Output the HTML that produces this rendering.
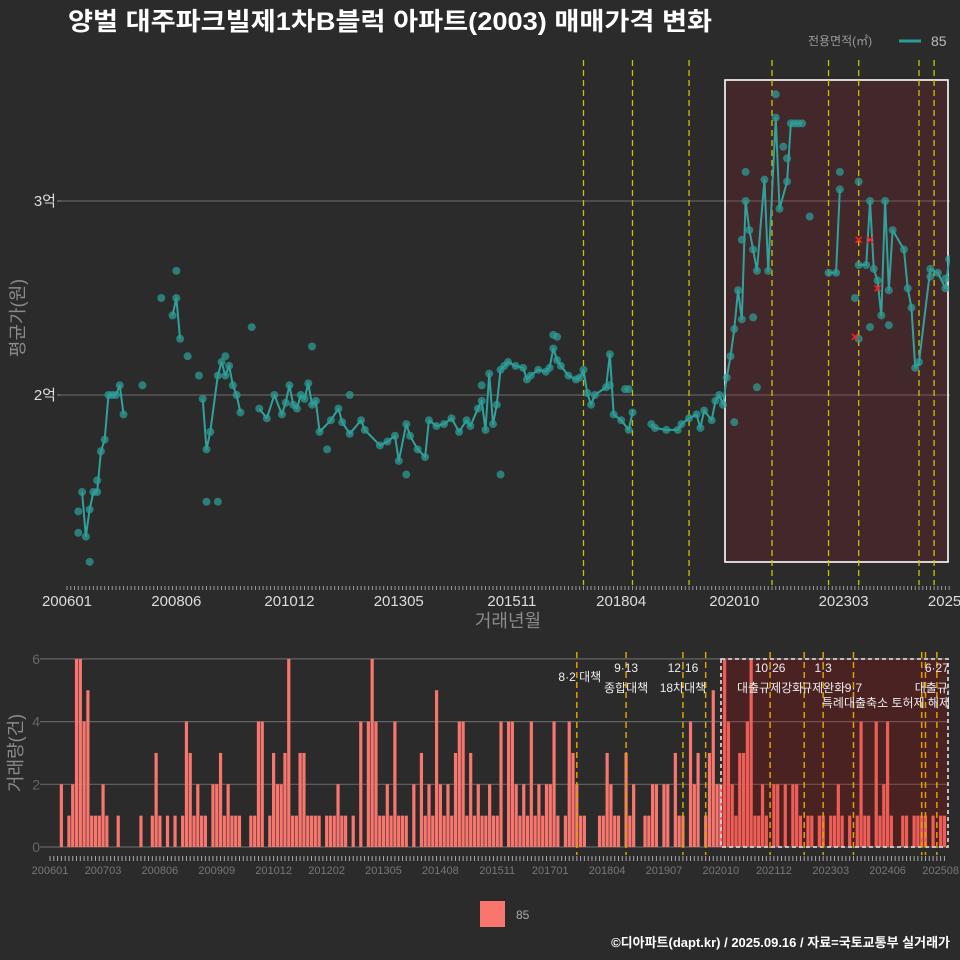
<!DOCTYPE html>
<html><head><meta charset="utf-8">
<style>
html,body{margin:0;padding:0;background:#2b2b2b;}
svg{display:block;font-family:"Liberation Sans","Noto Sans CJK KR",sans-serif;}
</style></head>
<body>
<svg id="chart" width="960" height="960" viewBox="0 0 960 960" xmlns="http://www.w3.org/2000/svg">
<rect x="0" y="0" width="960" height="960" fill="#2b2b2b"/>
<text x="68" y="30" fill="#ffffff" font-size="25" font-weight="bold" textLength="644" lengthAdjust="spacingAndGlyphs">양벌 대주파크빌제1차B블럭 아파트(2003) 매매가격 변화</text>
<g>
<text x="808" y="45" fill="#9a9a9a" font-size="12">전용면적(㎡)</text>
<line x1="899" y1="41" x2="921" y2="41" stroke="#2a9d96" stroke-width="3"/>
<text x="931" y="46" fill="#bbbbbb" font-size="14">85</text>
</g>
<text transform="translate(24,318) rotate(-90)" text-anchor="middle" fill="#8a8a8a" font-size="18">평균가(원)</text>
<text x="508" y="627" text-anchor="middle" fill="#8a8a8a" font-size="18">거래년월</text>
<text transform="translate(22,753) rotate(-90)" text-anchor="middle" fill="#8a8a8a" font-size="18">거래량(건)</text>
<g>
<rect x="480" y="901" width="25" height="26" fill="#f8766d"/>
<text x="516" y="919" fill="#aaaaaa" font-size="12">85</text>
</g>
<text x="950" y="947" text-anchor="end" fill="#ffffff" font-size="13" font-weight="bold">©디아파트(dapt.kr) / 2025.09.16 / 자료=국토교통부 실거래가</text>
<defs>
<clipPath id="topClip"><rect x="40" y="40" width="910" height="545"/></clipPath>
<clipPath id="botClip"><rect x="40" y="640" width="909" height="215"/></clipPath>
</defs>
<g id="top" clip-path="url(#topClip)"></g>
<g id="topAxis"></g>
<g id="bot" clip-path="url(#botClip)"></g>
<g id="botAxis"></g>
</svg>
<script>
const lineMonths=[200605,200606,200607,200608,200609,200610,200611,200612,200702,200703,200704,200805,200806,200807,200901,200902,200903,200905,200906,200907,200908,200909,200910,200911,201004,201006,201008,201010,201011,201012,201101,201102,201103,201104,201105,201106,201107,201108,201111,201201,201202,201204,201207,201208,201212,201302,201304,201305,201307,201308,201310,201312,201401,201403,201405,201407,201409,201411,201412,201502,201503,201504,201505,201506,201507,201508,201509,201510,201512,201602,201603,201604,201606,201608,201609,201610,201611,201612,201702,201704,201705,201706,201707,201708,201709,201712,201801,201802,201804,201806,201807,201812,201901,201904,201907,201908,201910,201912,202001,202002,202004,202005,202006,202007,202008,202009,202010,202011,202012,202101,202102,202103,202104,202106,202107,202109,202110,202112,202201,202202,202203,202204,202211,202301,202302,202307,202309,202310,202311,202312,202401,202402,202403,202404,202407,202408,202409,202410,202411,202502,202504,202506,202507];
const linePrices=[1.50,1.27,1.41,1.50,1.50,1.71,1.77,2.0,2.0,2.05,1.90,2.41,2.50,2.29,1.98,1.72,1.81,2.10,2.17,2.10,2.15,2.05,2.0,1.91,1.93,1.88,2.0,1.9,1.96,2.05,1.95,1.93,2.0,1.98,2.06,1.95,1.97,1.81,1.87,1.93,1.86,1.80,1.87,1.82,1.74,1.76,1.79,1.66,1.85,1.79,1.72,1.68,1.87,1.84,1.85,1.88,1.81,1.87,1.84,1.93,1.97,1.82,2.11,1.85,1.95,2.13,2.15,2.17,2.15,2.14,2.08,2.1,2.13,2.12,2.14,2.24,2.18,2.15,2.1,2.08,2.09,2.13,2.01,1.95,2.0,2.04,2.21,1.90,1.87,1.82,1.91,1.85,1.83,1.82,1.82,1.85,1.88,1.90,1.83,1.92,1.87,1.97,2.0,1.95,2.09,2.2,2.34,2.54,2.39,3.0,2.85,2.75,2.64,3.11,2.64,3.43,2.96,3.1,3.4,3.4,3.4,3.4,2.63,2.63,3.06,2.67,2.67,3.0,2.65,2.59,2.41,3.0,2.54,2.85,2.75,2.55,2.45,2.14,2.17,2.65,2.63,2.55,2.7];
const extraMonths=[200604,200604,200607,200609,200701,200709,200802,200806,200809,200812,200902,200905,200907,201002,201106,201110,201204,201307,201508,201610,201611,201801,202010,202101,202012,202103,202104,202109,202111,202112,202206,202302,202307,202306,202307,202310,202403,202502,202506,201503,201805,201806];
const extraPrices=[1.40,1.29,1.14,1.56,2.0,2.05,2.5,2.64,2.2,2.1,1.45,1.45,2.2,2.35,2.25,1.72,2.0,1.59,1.59,2.31,2.3,2.05,1.86,3.15,2.8,2.4,2.04,3.55,3.28,3.22,2.92,3.15,3.1,2.5,2.29,2.35,2.36,2.61,2.6,2.05,2.03,2.03];
const crossMonths=[202307,202310,202312,202306];
const crossPrices=[2.8,2.8,2.55,2.3];
const priceTickValues=[2,3];
const priceTickLabels=["2억","3억"];
const topTickMonths=[200601,200806,201012,201305,201511,201804,202010,202303,202508];
const topEventMonths=[201706,201807,201910,202108,202211,202307,202411,202503];
const barMonths=[200604,200606,200607,200608,200609,200610,200611,200612,200701,200702,200703,200704,200707,200801,200804,200805,200806,200808,200810,200812,200901,200902,200903,200904,200905,200906,200908,200909,200910,200911,200912,201001,201002,201003,201006,201007,201008,201009,201011,201012,201101,201102,201103,201104,201105,201106,201107,201108,201109,201110,201111,201112,201202,201203,201204,201205,201206,201207,201209,201211,201301,201302,201303,201304,201305,201306,201307,201308,201309,201310,201311,201401,201403,201404,201405,201406,201407,201408,201409,201410,201411,201412,201501,201502,201503,201504,201505,201506,201507,201508,201509,201510,201511,201512,201602,201603,201604,201605,201606,201607,201608,201609,201610,201611,201612,201701,201702,201703,201705,201706,201707,201708,201709,201710,201802,201803,201804,201805,201806,201807,201809,201810,201811,201902,201903,201904,201905,201907,201908,201910,201911,201912,202002,202003,202004,202006,202007,202008,202009,202010,202011,202012,202101,202102,202103,202104,202105,202106,202107,202108,202109,202110,202112,202201,202203,202205,202206,202207,202209,202210,202212,202301,202303,202304,202305,202306,202308,202310,202311,202312,202401,202403,202404,202405,202406,202407,202410,202411,202501,202502,202503,202504,202506,202508,202509];
const barCounts=[2,1,2,6,6,4,5,1,1,1,2,1,1,1,1,3,1,1,1,1,4,3,1,2,1,1,2,2,3,1,2,1,1,1,1,1,4,4,1,3,2,2,3,6,1,1,3,3,1,1,1,1,1,1,1,2,1,1,1,4,4,6,4,1,1,2,1,4,1,1,1,2,3,1,2,1,5,2,1,2,1,3,4,4,1,3,1,2,1,1,2,1,1,4,4,4,2,1,2,1,4,1,2,1,2,2,4,1,1,4,3,2,1,1,1,1,3,2,1,1,3,1,2,1,1,2,2,2,2,3,1,1,4,2,3,1,3,5,2,2,6,4,2,1,3,3,4,6,1,1,2,1,2,2,2,2,2,1,1,1,1,1,1,1,2,1,1,1,4,1,1,4,1,2,4,1,1,1,1,1,1,1,1,1,1];
const countTickValues=[0,2,4,6];
const bottomTickMonths=[200601,200703,200806,200909,201012,201202,201305,201408,201511,201701,201804,201907,202010,202112,202303,202406,202508];
const bottomEventMonths=[201708,201809,201912,202006,202111,202208,202301,202309,202503,202504,202507];
const annoTexts=["8·2 대책","9·13","종합대책","12·16","18차대책","10·26","대출규제강화","1·3","규제완화","9·7","특례대출축소 토허제 해제","6·27","대출규제"];
const annoMonths=[201708,201809,201809,201912,201912,202111,202111,202301,202301,202309,202309,202507,202507];
const annoRows=[3,0,1,0,1,0,1,0,1,1,2,0,1];

const NS="http://www.w3.org/2000/svg";
function mIdx(ym){return (Math.floor(ym/100)-2006)*12+(ym%100-1);}
function xTop(ym){return 67+mIdx(ym)*3.77;}
function yTop(v){return 395-(v-2)*194;}
function xBot(ym){return 50+mIdx(ym)*3.79;}
function yBot(c){return 847-c*31.35;}
function mk(tag,attrs,parent){const e=document.createElementNS(NS,tag);for(const k in attrs)e.setAttribute(k,attrs[k]);parent.appendChild(e);return e;}
const topG=document.getElementById('top'),topAxisG=document.getElementById('topAxis'),botG=document.getElementById('bot'),botAxisG=document.getElementById('botAxis'),svgEl=document.getElementById('chart');

priceTickValues.forEach((v,i)=>{
 const g=mk('line',{x1:60,x2:950,y1:yTop(v),y2:yTop(v),stroke:'#5f5f5f','stroke-width':1.2},topG);
 
 
 const t=mk('text',{x:56,y:yTop(v)+5,'text-anchor':'end',fill:'#dddddd','font-size':15},svgEl);
 t.textContent=priceTickLabels[i];
 
 
 const tk=mk('line',{x1:57,x2:61,y1:yTop(v),y2:yTop(v),stroke:'#888'},svgEl);
 
 
});
const hr=mk('rect',{x:725,y:80,width:223,height:482,fill:'rgba(150,30,40,0.22)',stroke:'#ffffff','stroke-width':1.6},topG);


topEventMonths.forEach(m=>{
 const l=mk('line',{x1:xTop(m),x2:xTop(m),y1:60,y2:585,stroke:'#c8c400','stroke-width':1.3,'stroke-dasharray':'6 4'},topG);
 
 
});
let seg=[];const segs=[];
lineMonths.forEach((m,i)=>{
 if(i>0&&mIdx(m)-mIdx(lineMonths[i-1])>4){segs.push(seg);seg=[];}
 seg.push([xTop(m),yTop(linePrices[i])]);
});
segs.push(seg);
segs.forEach(s=>{
 const p=mk('polyline',{points:s.map(q=>q.join(',')).join(' '),fill:'none',stroke:'#30a29c','stroke-width':2,'stroke-linejoin':'round'},topG);
 
 
});
lineMonths.concat(extraMonths).forEach((m,i)=>{
 const v=i<lineMonths.length?linePrices[i]:extraPrices[i-lineMonths.length];
 const c=mk('circle',{cx:xTop(m),cy:yTop(v),r:4,fill:'#2c9e97','fill-opacity':0.72},topG);
 
 
});
crossMonths.forEach((m,i)=>{
 const x=xTop(m),y=yTop(crossPrices[i]);
 const c=mk('path',{d:`M${x-3},${y-3}L${x+3},${y+3}M${x+3},${y-3}L${x-3},${y+3}`,stroke:'#ff2020','stroke-width':1.5},topG);
 
 
});
for(let m=0;m<=236;m++){
 const x=67+m*3.77;if(x>950)break;
 const t=mk('line',{x1:x,x2:x,y1:586,y2:590,stroke:'#999','stroke-width':1},topAxisG);
 
 
}
topTickMonths.forEach(m=>{
 const t=mk('text',{x:xTop(m),y:606,'text-anchor':'middle',fill:'#dddddd','font-size':15},topAxisG);
 t.textContent=String(m);
 
 
});

countTickValues.forEach(v=>{
 const g=mk('line',{x1:40,x2:949,y1:yBot(v),y2:yBot(v),stroke:'#646464','stroke-width':1.2},botG);
 
 
 const t=mk('text',{x:40,y:yBot(v)+5,'text-anchor':'end',fill:'#666666','font-size':14},svgEl);
 t.textContent=String(v);
 
 
});
barMonths.forEach((m,i)=>{
 const b=mk('rect',{x:xBot(m)-1.6,y:yBot(barCounts[i]),width:3.2,height:barCounts[i]*31.35,fill:'#f8766d'},botG);
 
 
});
const hb=mk('rect',{x:721,y:659,width:227,height:188,fill:'rgba(200,0,0,0.2)',stroke:'#cfcfcf','stroke-width':1.8,'stroke-dasharray':'4 3'},botG);


bottomEventMonths.forEach(m=>{
 const l=mk('line',{x1:xBot(m),x2:xBot(m),y1:652,y2:858,stroke:'#e0a000','stroke-width':1.5,'stroke-dasharray':'6 4'},botG);
 
 
});
annoTexts.forEach((s,i)=>{
 const x=xBot(annoMonths[i]);
 const rowY=[672,692,707,681][annoRows[i]];
 const anchor=(i===10)?'end':'middle';
 const ax=(i===10)?950:(i===0?x+3:x);
 const t=mk('text',{x:ax,y:rowY,'text-anchor':anchor,fill:'#eeeeee','font-size':12},botG);
 t.textContent=s;
 
 
});
for(let m=0;m<=236;m++){
 const x=50+m*3.79;if(x>948)break;
 const t=mk('line',{x1:x,x2:x,y1:856,y2:861,stroke:'#aaa','stroke-width':1},botAxisG);
 
 
}
bottomTickMonths.forEach(m=>{
 const t=mk('text',{x:xBot(m),y:874,'text-anchor':'middle',fill:'#777777','font-size':11},botAxisG);
 t.textContent=String(m);
 
 
});
</script>
</body></html>
